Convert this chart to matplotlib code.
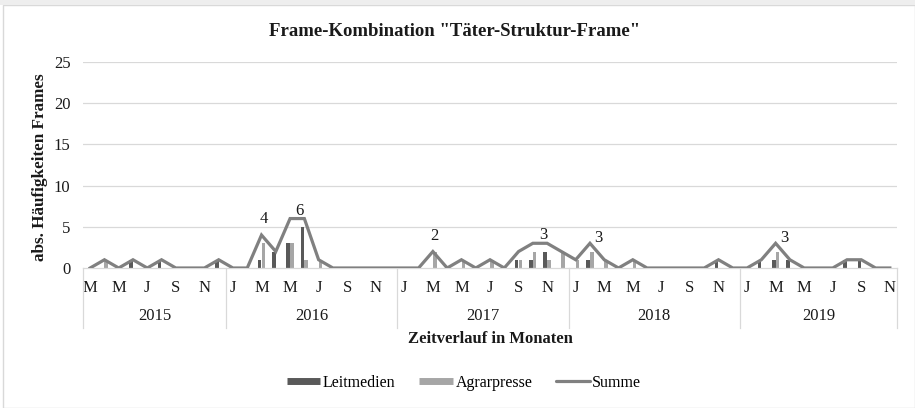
import matplotlib
matplotlib.use("Agg")
import matplotlib.pyplot as plt
import matplotlib.transforms as mtransforms
from matplotlib.lines import Line2D
from matplotlib.patches import Rectangle
import numpy as np

plt.rcParams['font.family'] = ['Liberation Serif', 'DejaVu Serif']

# Monatsachse: März 2015 bis November 2019
jahre = ["2015", "2016", "2017", "2018", "2019"]
monate_pro_jahr = [10, 12, 12, 12, 11]
monats_kuerzel = (
    ["M", "A", "M", "J", "J", "A", "S", "O", "N", "D"]
    + ["J", "F", "M", "A", "M", "J", "J", "A", "S", "O", "N", "D"] * 3
    + ["J", "F", "M", "A", "M", "J", "J", "A", "S", "O", "N"]
)

leitmedien = [
    0, 0, 0, 1, 0, 1, 0, 0, 0, 1,
    0, 0, 1, 2, 3, 5, 0, 0, 0, 0, 0, 0,
    0, 0, 0, 0, 0, 0, 0, 0, 1, 1, 2, 0,
    0, 1, 0, 0, 0, 0, 0, 0, 0, 0, 1, 0,
    0, 1, 1, 1, 0, 0, 0, 1, 1, 0, 0,
]
agrarpresse = [
    0, 1, 0, 0, 0, 0, 0, 0, 0, 0,
    0, 0, 3, 0, 3, 1, 1, 0, 0, 0, 0, 0,
    0, 0, 2, 0, 1, 0, 1, 0, 1, 2, 1, 2,
    1, 2, 1, 0, 1, 0, 0, 0, 0, 0, 0, 0,
    0, 0, 2, 0, 0, 0, 0, 0, 0, 0, 0,
]
summe = [
    0, 1, 0, 1, 0, 1, 0, 0, 0, 1,
    0, 0, 4, 2, 6, 6, 1, 0, 0, 0, 0, 0,
    0, 0, 2, 0, 1, 0, 1, 0, 2, 3, 3, 2,
    1, 3, 1, 0, 1, 0, 0, 0, 0, 0, 1, 0,
    0, 1, 3, 1, 0, 0, 0, 1, 1, 0, 0,
]
# Beschriftete Punkte: (Monatsindex, Versatz x/y in Pixeln)
label_punkte = [(12, 2, 16), (15, -5, 8), (24, 1, 16), (32, -4, 8), (35, 8, 5), (48, 9, 5)]

W, H = 915, 408
fig = plt.figure(figsize=(W / 100, H / 100), dpi=100)
fig.patch.set_facecolor("white")
fig.patches.append(Rectangle((3 / W, 0), 1 - 3 / W, 1 - 5 / H, transform=fig.transFigure,
                             fill=False, edgecolor="#d9d9d9", lw=1.0))
fig.patches.append(Rectangle((0, 1 - 5 / H), 1, 5 / H, transform=fig.transFigure,
                             facecolor="#eeeeee", edgecolor="none"))

left, right, bottom, top = 83, 897, 268, 62
ax = fig.add_axes([left / W, 1 - bottom / H, (right - left) / W, (bottom - top) / H])

n = len(summe)
x = np.arange(n)
bw = 0.25
dark, light, linec, grid = "#595959", "#a6a6a6", "#808080", "#d9d9d9"
txt = "#1a1a1a"

ax.bar(x - 0.13, leitmedien, width=bw, color=dark, zorder=2)
ax.bar(x + 0.13, agrarpresse, width=bw, color=light, zorder=2)
ax.plot(x, summe, color=linec, lw=2.3, zorder=3, solid_joinstyle="miter")

ax.set_xlim(-0.5, n - 0.5)
ax.set_ylim(0, 25)
ax.set_yticks([0, 5, 10, 15, 20, 25])
for yv in [5, 10, 15, 20, 25]:
    ax.axhline(yv, color=grid, lw=0.9, zorder=0)
for s in ["top", "right", "left"]:
    ax.spines[s].set_visible(False)
ax.spines["bottom"].set_color(grid)
ax.spines["bottom"].set_linewidth(0.9)
ax.tick_params(axis="y", length=0, pad=9, labelsize=12, labelcolor=txt)

tick_pos = x[::2]
ax.set_xticks(tick_pos)
ax.set_xticklabels([monats_kuerzel[i] for i in tick_pos])
ax.tick_params(axis="x", length=0, pad=9, labelsize=12, labelcolor=txt)

axh = bottom - top
blend = mtransforms.blended_transform_factory(ax.transData, ax.transAxes)
grenzen = np.concatenate([[0], np.cumsum(monate_pro_jahr)]) - 0.5
for g in grenzen:
    ax.add_line(Line2D([g, g], [0, -60 / axh], transform=blend, color=grid, lw=0.9, clip_on=False))
for j, jahr in enumerate(jahre):
    mitte = (grenzen[j] + grenzen[j + 1]) / 2
    ax.text(mitte, -48 / axh, jahr, transform=blend, ha="center", va="center",
            fontsize=12, color=txt)

for idx, dx, dy in label_punkte:
    ax.annotate(str(summe[idx]), (idx, summe[idx]), xytext=(dx, dy), textcoords="offset pixels",
                ha="center", va="center", fontsize=12, color=txt, zorder=4)

fig.text(455 / W, 1 - 32 / H, 'Frame-Kombination "Täter-Struktur-Frame"', ha="center", va="center",
         fontsize=13.5, fontweight="bold", color=txt)
fig.text(490 / W, 1 - 339 / H, "Zeitverlauf in Monaten", ha="center", va="center",
         fontsize=12, fontweight="bold", color=txt)
fig.text(40 / W, 1 - 167 / H, "abs. Häufigkeiten Frames", ha="center", va="center", rotation=90,
         fontsize=12.3, fontweight="bold", color=txt)

handles = [
    Line2D([], [], color=dark, lw=5, solid_capstyle="butt"),
    Line2D([], [], color=light, lw=5, solid_capstyle="butt"),
    Line2D([], [], color=linec, lw=2.3, solid_capstyle="round"),
]
fig.legend(handles, ["Leitmedien", "Agrarpresse", "Summe"], loc="center", ncol=3,
           bbox_to_anchor=(464 / W, 1 - 383 / H), frameon=False, fontsize=11.5,
           handlelength=2.1, handletextpad=0.15, columnspacing=1.5)

fig.savefig("out.png", dpi=100, facecolor="white")
